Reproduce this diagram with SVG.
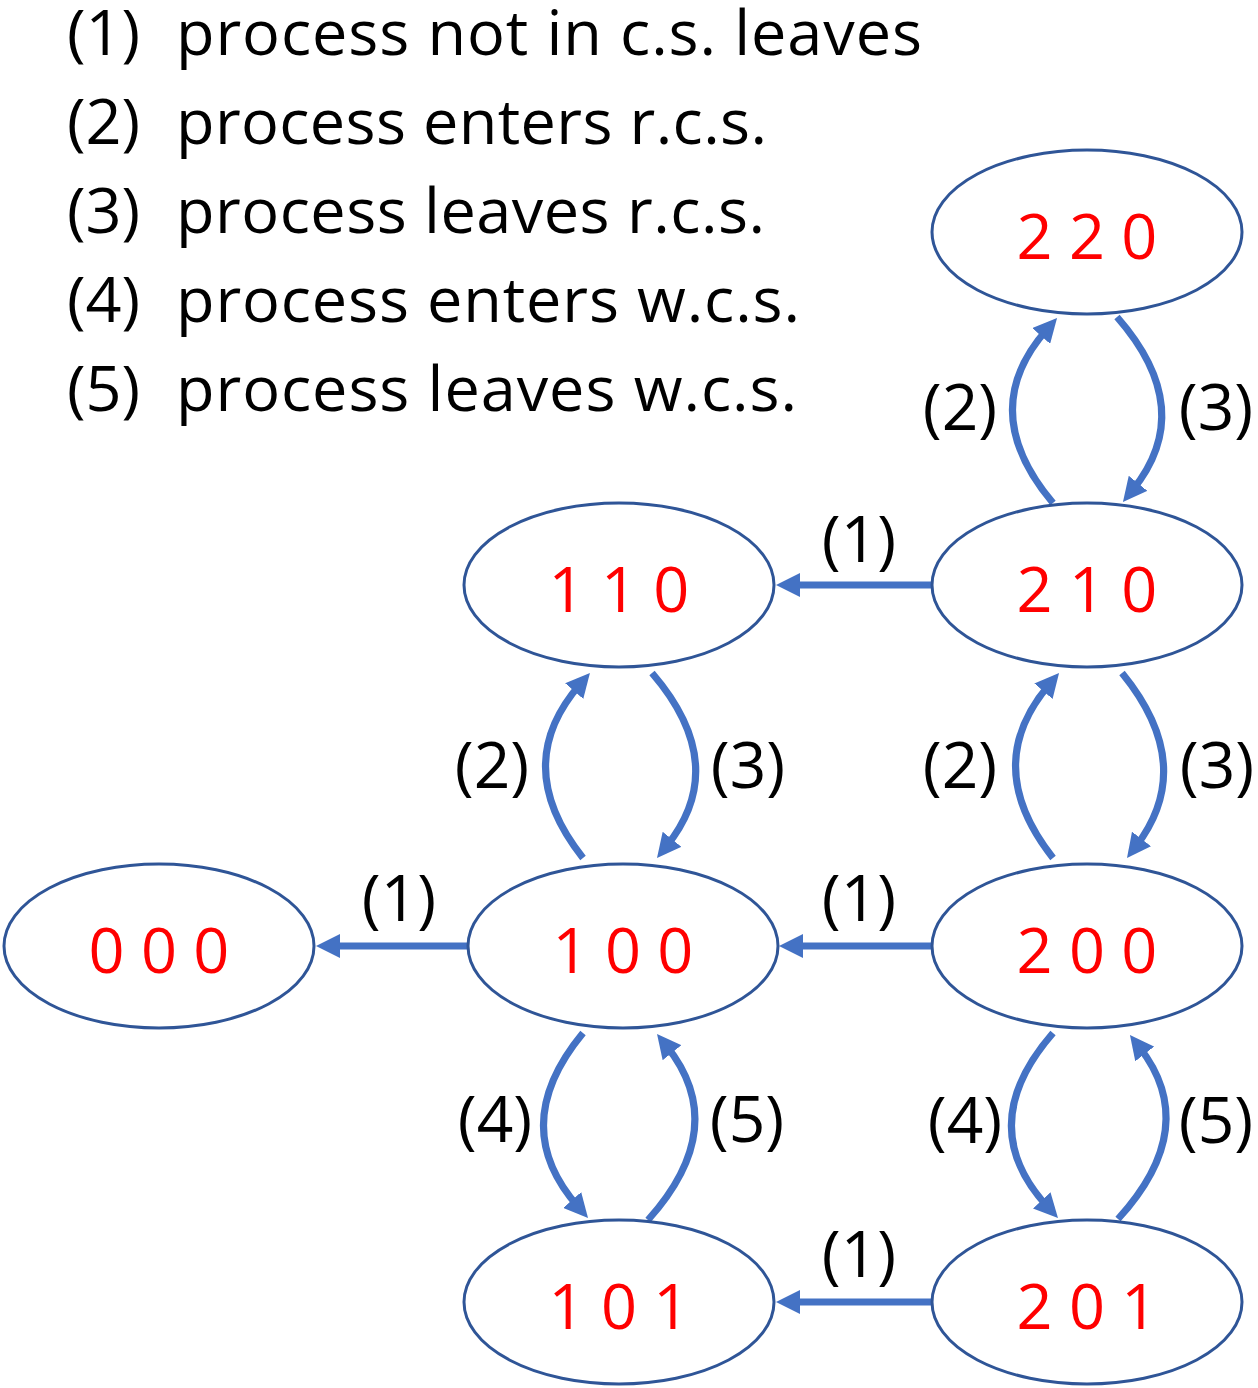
<svg xmlns="http://www.w3.org/2000/svg" width="1258" height="1388" viewBox="0 0 1258 1388">
<style>
.node ellipse{fill:#FFFFFF;stroke:#2F5597;stroke-width:3}
.node text{font-family:"Open Sans","Liberation Sans",sans-serif;font-size:63px;fill:#FF0000;text-anchor:middle}
.edge{fill:none;stroke:#4472C4;stroke-width:7;marker-end:url(#ah)}
.lbl{font-family:"Open Sans","Liberation Sans",sans-serif;font-size:64px;fill:#000000;text-anchor:middle}
.leg{font-family:"Open Sans","Liberation Sans",sans-serif;font-size:63px;fill:#000000}
</style>
<defs>
<marker id="ah" markerUnits="userSpaceOnUse" markerWidth="24" markerHeight="24" viewBox="0 0 24 24" refX="9" refY="12" orient="auto">
<path d="M0,0 L24,12 L0,24 z" fill="#4472C4"/>
</marker>
</defs>
<rect width="1258" height="1388" fill="#FFFFFF"/>
<g id="legend">
<text class="leg" x="67" y="55">(1)<tspan x="176" textLength="746">process not in c.s. leaves</tspan></text>
<text class="leg" x="67" y="144">(2)<tspan x="176" textLength="591">process enters r.c.s.</tspan></text>
<text class="leg" x="67" y="233">(3)<tspan x="176" textLength="589">process leaves r.c.s.</tspan></text>
<text class="leg" x="67" y="322">(4)<tspan x="176" textLength="624">process enters w.c.s.</tspan></text>
<text class="leg" x="67" y="411">(5)<tspan x="176" textLength="621">process leaves w.c.s.</tspan></text>
</g>
<g id="connectors">
<path class="edge" d="M1053,503 Q975,410.5 1047.1,329.2"/>
<path class="edge" d="M1117,317 Q1198,409.5 1132.4,490.3"/>
<path class="edge" d="M583,858 Q509.5,765.5 580.1,684.3"/>
<path class="edge" d="M652,673 Q731.5,765.5 666.4,846.3"/>
<path class="edge" d="M1053,858 Q980,765.5 1049.3,684.4"/>
<path class="edge" d="M1122,673 Q1197.5,765.5 1136.1,846.1"/>
<path class="edge" d="M583,1033 Q506.5,1125.5 578.1,1206.75"/>
<path class="edge" d="M648,1220 Q731.5,1127 666.4,1045.7"/>
<path class="edge" d="M1053,1033 Q972.5,1125.5 1047.8,1207"/>
<path class="edge" d="M1118,1219 Q1202,1127 1139.2,1046.8"/>
<path class="edge" d="M931,585 L791,585"/>
<path class="edge" d="M468,946 L331,946"/>
<path class="edge" d="M931,946 L794,946"/>
<path class="edge" d="M931,1302 L791,1302"/>
<text class="lbl" x="960" y="430">(2)</text>
<text class="lbl" x="1216" y="430">(3)</text>
<text class="lbl" x="859" y="562">(1)</text>
<text class="lbl" x="492" y="788">(2)</text>
<text class="lbl" x="748" y="788">(3)</text>
<text class="lbl" x="960" y="788">(2)</text>
<text class="lbl" x="1217" y="788">(3)</text>
<text class="lbl" x="399" y="921">(1)</text>
<text class="lbl" x="859" y="921">(1)</text>
<text class="lbl" x="495" y="1142">(4)</text>
<text class="lbl" x="747" y="1142">(5)</text>
<text class="lbl" x="965" y="1143">(4)</text>
<text class="lbl" x="1216" y="1143">(5)</text>
<text class="lbl" x="859" y="1277">(1)</text>
</g>
<g id="n220" class="node"><ellipse cx="1087" cy="232" rx="155" ry="82"/><text x="1087" y="259">2 2 0</text></g>
<g id="n210" class="node"><ellipse cx="1087" cy="585" rx="155" ry="82"/><text x="1087" y="612">2 1 0</text></g>
<g id="n110" class="node"><ellipse cx="619" cy="585" rx="155" ry="82"/><text x="619" y="612">1 1 0</text></g>
<g id="n000" class="node"><ellipse cx="159" cy="946" rx="155" ry="82"/><text x="159" y="973">0 0 0</text></g>
<g id="n100" class="node"><ellipse cx="623" cy="946" rx="155" ry="82"/><text x="623" y="973">1 0 0</text></g>
<g id="n200" class="node"><ellipse cx="1087" cy="946" rx="155" ry="82"/><text x="1087" y="973">2 0 0</text></g>
<g id="n101" class="node"><ellipse cx="619" cy="1302" rx="155" ry="82"/><text x="619" y="1329">1 0 1</text></g>
<g id="n201" class="node"><ellipse cx="1087" cy="1302" rx="155" ry="82"/><text x="1087" y="1329">2 0 1</text></g>
</svg>
